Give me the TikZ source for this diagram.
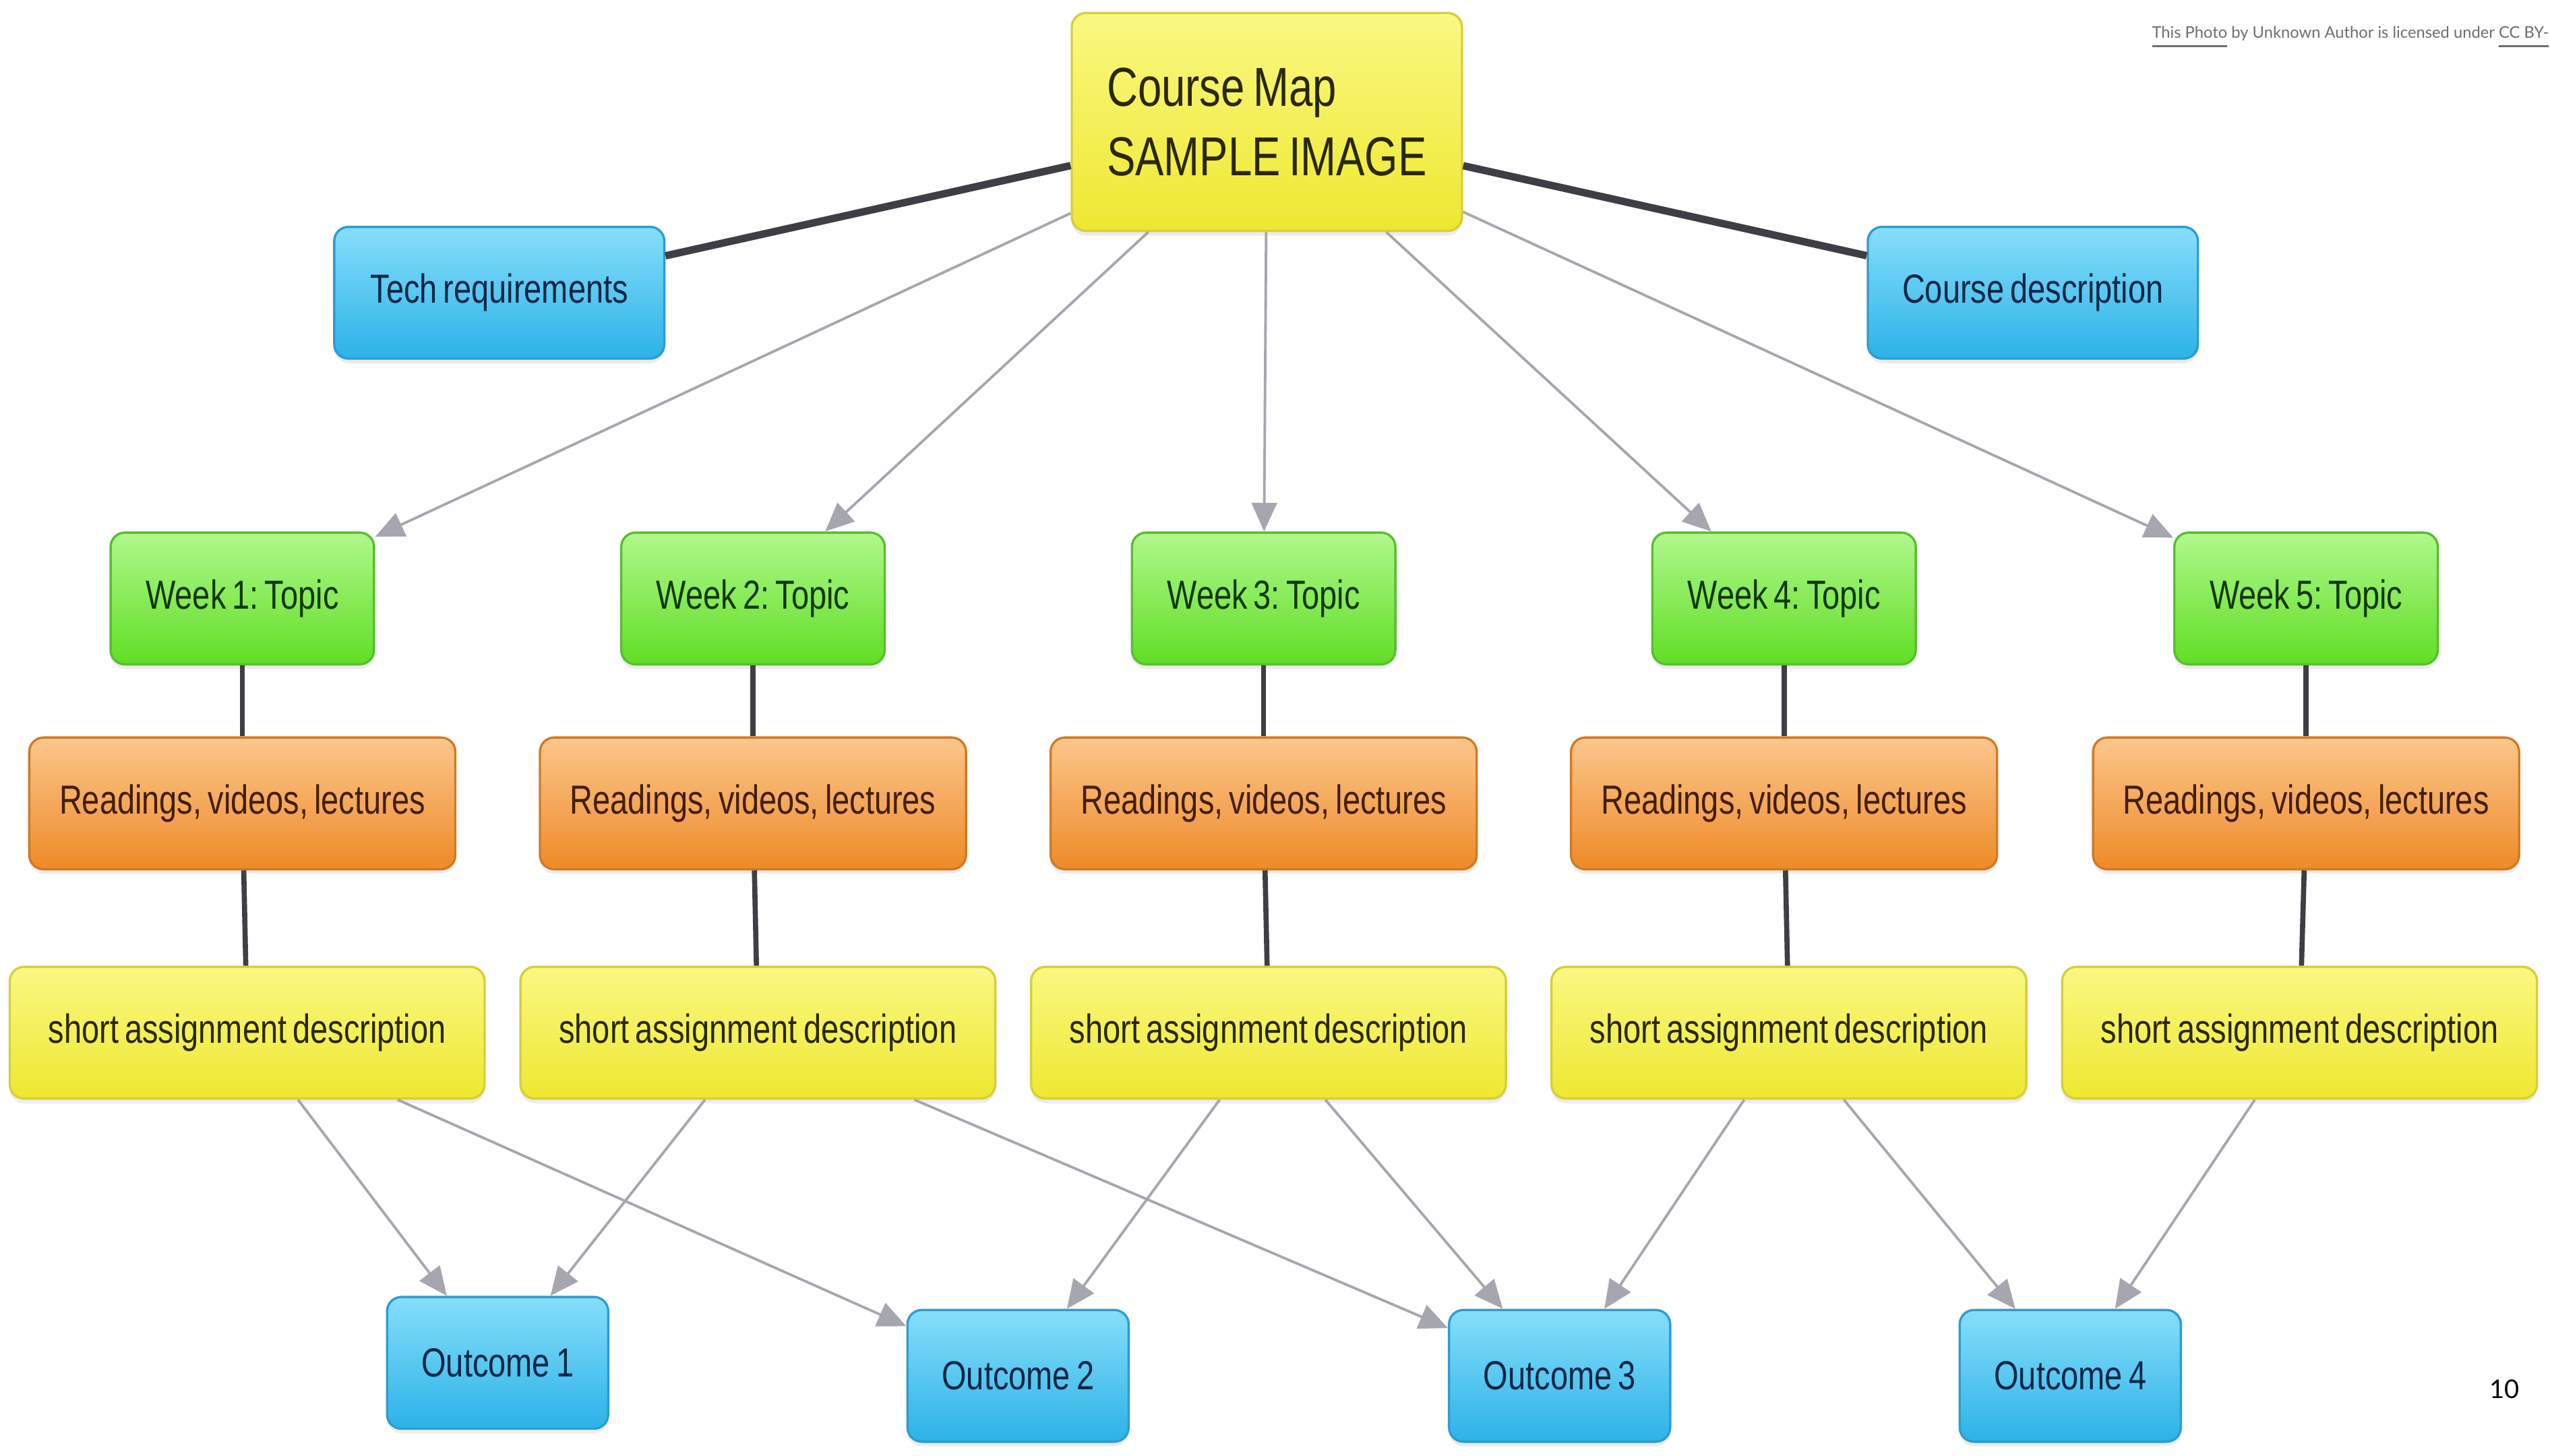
\documentclass[tikz,border=0pt]{standalone}
\usepackage{fontspec}
\setmainfont[FakeStretch=0.78, WordSpace=0.7]{Liberation Sans}
\newfontfamily\latofont{Lato}
\usetikzlibrary{arrows.meta,shadows}
\frenchspacing

\definecolor{linedark}{RGB}{62,62,70}
\definecolor{linegray}{RGB}{166,166,176}
\definecolor{ytop}{RGB}{250,248,130}
\definecolor{ybot}{RGB}{238,232,48}
\definecolor{yline}{RGB}{214,206,60}
\definecolor{btop}{RGB}{134,222,250}
\definecolor{bbot}{RGB}{44,178,232}
\definecolor{bline}{RGB}{46,156,208}
\definecolor{gtop}{RGB}{176,248,140}
\definecolor{gbot}{RGB}{96,222,36}
\definecolor{gline}{RGB}{88,190,48}
\definecolor{otop}{RGB}{252,198,140}
\definecolor{obot}{RGB}{238,138,40}
\definecolor{oline}{RGB}{208,122,36}

\tikzset{
  box/.style={rounded corners=2.5pt, minimum height=0.81cm, inner sep=0pt,
    line width=0.4pt, font=\fontsize{7.1}{8.5}\selectfont,
    drop shadow={shadow xshift=0pt, shadow yshift=-0.8pt, opacity=0.15}},
  yellowbox/.style={box, draw=yline, top color=ytop, bottom color=ybot, text={rgb,255:red,40;green,40;blue,4}},
  bluebox/.style={box, draw=bline, top color=btop, bottom color=bbot, text={rgb,255:red,10;green,38;blue,68}},
  weekbox/.style={box, draw=gline, top color=gtop, bottom color=gbot, text={rgb,255:red,18;green,54;blue,8}, minimum width=1.62cm},
  readbox/.style={box, draw=oline, top color=otop, bottom color=obot, text={rgb,255:red,66;green,30;blue,6}, minimum width=2.62cm},
  taskbox/.style={yellowbox, minimum width=2.92cm},
  outcomebox/.style={bluebox, minimum width=1.36cm},
  link/.style={draw=linedark, line width=0.9pt},
  arrowlink/.style={draw=linegray, line width=0.45pt, -{Triangle[length=5pt,width=4.4pt]}}
}

\begin{document}
\begin{tikzpicture}
  \useasboundingbox[fill=white] (0,0) rectangle (15.68,-8.95);

  \node[yellowbox, minimum width=2.40cm, minimum height=1.34cm,
        align=left, font=\fontsize{9.6}{12.2}\selectfont] (map) at (7.79,-0.75)
        {Course Map\\SAMPLE IMAGE};
  \node[bluebox, minimum width=2.03cm] (tech) at (3.07,-1.80) {Tech requirements};
  \node[bluebox, minimum width=2.03cm] (desc) at (12.50,-1.80) {Course description};
  \draw[link, line width=1.3pt] (map) -- (tech);
  \draw[link, line width=1.3pt] (map) -- (desc);

  \foreach \i/\x/\xs in {1/1.49/1.52, 2/4.63/4.66, 3/7.77/7.80, 4/10.97/11.00, 5/14.18/14.14} {
    \node[weekbox] (week\i) at (\x,-3.68) {Week \i: Topic};
    \node[readbox] (read\i) at (\x,-4.94) {Readings, videos, lectures};
    \node[taskbox] (task\i) at (\xs,-6.35) {short assignment description};
    \draw[arrowlink] (map) -- (week\i);
    \draw[link] (week\i) -- (read\i);
    \draw[link] (read\i) -- (task\i);
  }

  \node[outcomebox] (outcome1) at (3.06,-8.38) {Outcome 1};
  \node[outcomebox] (outcome2) at (6.26,-8.46) {Outcome 2};
  \node[outcomebox] (outcome3) at (9.59,-8.46) {Outcome 3};
  \node[outcomebox] (outcome4) at (12.73,-8.46) {Outcome 4};
  \foreach \a/\b in {1/1, 1/2, 2/1, 2/3, 3/2, 3/3, 4/3, 4/4, 5/4}
    \draw[arrowlink] (task\a) -- (outcome\b);

  \node[anchor=base east, inner sep=0pt, text={rgb,255:red,110;green,110;blue,110},
        font=\latofont\fontsize{2.8}{3.4}\selectfont] (credit) at (15.68,-0.235)
        {\underline{This Photo} by Unknown Author is licensed under \underline{CC BY-}};
  \node[anchor=base, inner sep=0pt, font=\latofont\fontsize{4.5}{5}\selectfont] (page) at (15.40,-8.60) {10};
\end{tikzpicture}
\end{document}
